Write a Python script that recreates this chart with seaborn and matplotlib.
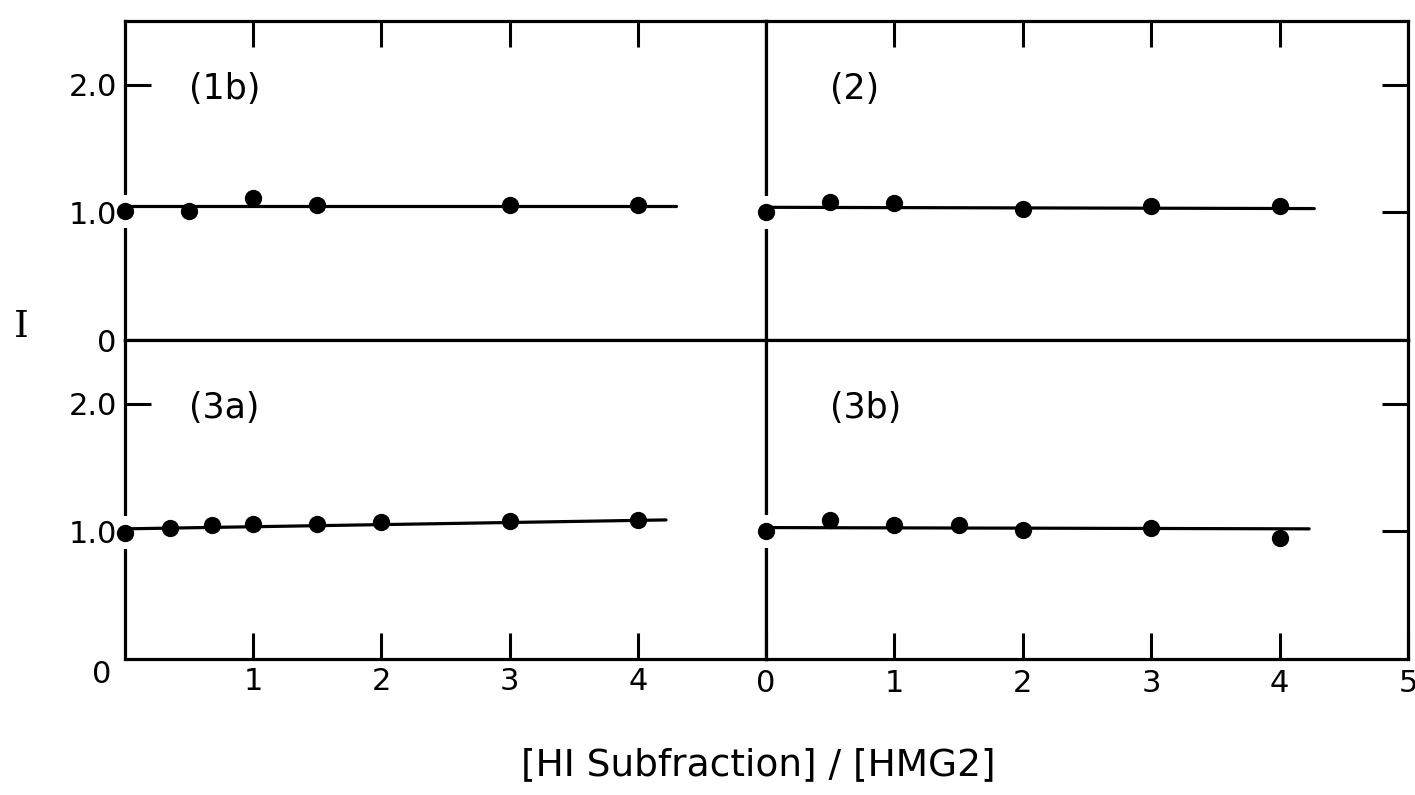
import matplotlib
matplotlib.use("Agg")
import matplotlib.pyplot as plt
import seaborn as sns

# Relative intensity I versus the [H1 subfraction]/[HMG2] ratio, four subfractions
x_1b = [0.0, 0.5, 1.0, 1.5, 3.0, 4.0]
i_1b = [1.01, 1.01, 1.11, 1.06, 1.06, 1.06]
fit_x_1b = [0.0, 4.3]
fit_i_1b = [1.05, 1.05]

x_2 = [0.0, 0.5, 1.0, 2.0, 3.0, 4.0]
i_2 = [1.00, 1.08, 1.07, 1.03, 1.05, 1.05]
fit_x_2 = [0.0, 4.27]
fit_i_2 = [1.04, 1.03]

x_3a = [0.0, 0.35, 0.68, 1.0, 1.5, 2.0, 3.0, 4.0]
i_3a = [0.99, 1.03, 1.05, 1.06, 1.06, 1.07, 1.08, 1.09]
fit_x_3a = [0.0, 4.22]
fit_i_3a = [1.02, 1.09]

x_3b = [0.0, 0.5, 1.0, 1.5, 2.0, 3.0, 4.0]
i_3b = [1.00, 1.09, 1.05, 1.05, 1.01, 1.03, 0.95]
fit_x_3b = [0.0, 4.23]
fit_i_3b = [1.03, 1.02]

panel_names = ["(1b)", "(2)", "(3a)", "(3b)"]
x_ticks_inner = [1, 2, 3, 4]
x_ticks_right = [0, 1, 2, 3, 4, 5]
x_tick_labels_right = ["0", "1", "2", "3", "4", "5"]
y_tick_major = [2]
y_tick_major_labels = ["2.0"]
y_tick_minor = [0, 1]
y_tick_minor_labels = ["0", "1.0"]
x_label = "[HI Subfraction] / [HMG2]"
y_label = "I"

sns.set_theme(style="white")
plt.rcParams["font.family"] = ["DejaVu Sans"]

W, H = 1415, 795
fig = plt.figure(figsize=(W / 100, H / 100), dpi=100)


def box(left, top, right, bottom):
    return [left / W, 1 - bottom / H, (right - left) / W, (bottom - top) / H]


X_L, X_M, X_R = 125, 766, 1408
Y_T, Y_M, Y_B = 21, 340, 659

panels = [
    ("tl", box(X_L, Y_T, X_M, Y_M), x_1b, i_1b, fit_x_1b, fit_i_1b, panel_names[0]),
    ("tr", box(X_M, Y_T, X_R, Y_M), x_2, i_2, fit_x_2, fit_i_2, panel_names[1]),
    ("bl", box(X_L, Y_M, X_M, Y_B), x_3a, i_3a, fit_x_3a, fit_i_3a, panel_names[2]),
    ("br", box(X_M, Y_M, X_R, Y_B), x_3b, i_3b, fit_x_3b, fit_i_3b, panel_names[3]),
]

TICK_LEN = 19
LW_FRAME = 2.3
LW_FIT = 2.3

for pos, rect, xs, ys, fx, fy, name in panels:
    ax = fig.add_axes(rect)
    ax.set_facecolor("white")
    ax.set_xlim(0, 5)
    ax.set_ylim(0, 2.5)
    for sp in ax.spines.values():
        sp.set_visible(True)
        sp.set_color("black")
        sp.set_linewidth(LW_FRAME)

    # break in the vertical axis around the zero-ratio point
    ax.plot([xs[0], xs[0]], [ys[0] - 0.13, ys[0] + 0.13], color="white",
            lw=6, solid_capstyle="butt", zorder=2.7, clip_on=False)

    sns.lineplot(x=fx, y=fy, ax=ax, color="black", linewidth=LW_FIT,
                 errorbar=None, zorder=3)
    sns.scatterplot(x=xs, y=ys, ax=ax, color="black", edgecolor="black",
                    s=155, linewidth=0, zorder=4)
    for coll in ax.collections:
        coll.set_clip_on(False)
    for ln in ax.lines:
        ln.set_clip_on(False)

    ax.tick_params(which="major", direction="in", length=TICK_LEN, width=2.2,
                   color="black", labelsize=22, labelcolor="black")
    ax.tick_params(which="minor", direction="in", length=0, width=0,
                   labelsize=22, labelcolor="black")

    if pos in ("tl", "tr"):
        ax.set_xticks(x_ticks_inner)
        ax.tick_params(axis="x", top=True, bottom=False,
                       labeltop=False, labelbottom=False)
    elif pos == "bl":
        ax.set_xticks(x_ticks_inner)
        ax.set_xticklabels([str(t) for t in x_ticks_inner])
        ax.tick_params(axis="x", top=False, bottom=True,
                       labelbottom=True, pad=6)
        ax.annotate("0", xy=(0, 0), xytext=(-17, -11),
                    textcoords="offset points", ha="center", va="center",
                    fontsize=22, color="black", annotation_clip=False)
    else:
        ax.set_xticks(x_ticks_right)
        ax.set_xticklabels(x_tick_labels_right)
        ax.tick_params(axis="x", top=False, bottom=True,
                       labelbottom=True, pad=7)

    if pos in ("tl", "bl"):
        ax.set_yticks(y_tick_major)
        ax.set_yticklabels(y_tick_major_labels)
        if pos == "tl":
            ax.set_yticks(y_tick_minor, minor=True)
            ax.set_yticklabels(y_tick_minor_labels, minor=True)
        else:
            ax.set_yticks(y_tick_minor[1:], minor=True)
            ax.set_yticklabels(y_tick_minor_labels[1:], minor=True)
        ax.tick_params(axis="y", which="both", left=True, right=False,
                       labelleft=True, pad=6)
        ax.tick_params(axis="y", which="minor", pad=6 + TICK_LEN * 0)
    else:
        ax.set_yticks([1, 2])
        ax.tick_params(axis="y", left=False, right=True,
                       labelleft=False, labelright=False)

    ax.set_xlabel("")
    ax.set_ylabel("")
    ax.text(0.5, 1.97, name, ha="left", va="center", fontsize=25,
            color="black")

fig.text(21 / W, 1 - 327 / H, y_label, ha="center", va="center",
         fontsize=27, family=["DejaVu Serif"], color="black")
fig.text(758 / W, 1 - 765 / H, x_label, ha="center", va="center",
         fontsize=27, color="black")

fig.savefig("out.png", dpi=100, facecolor="white")
